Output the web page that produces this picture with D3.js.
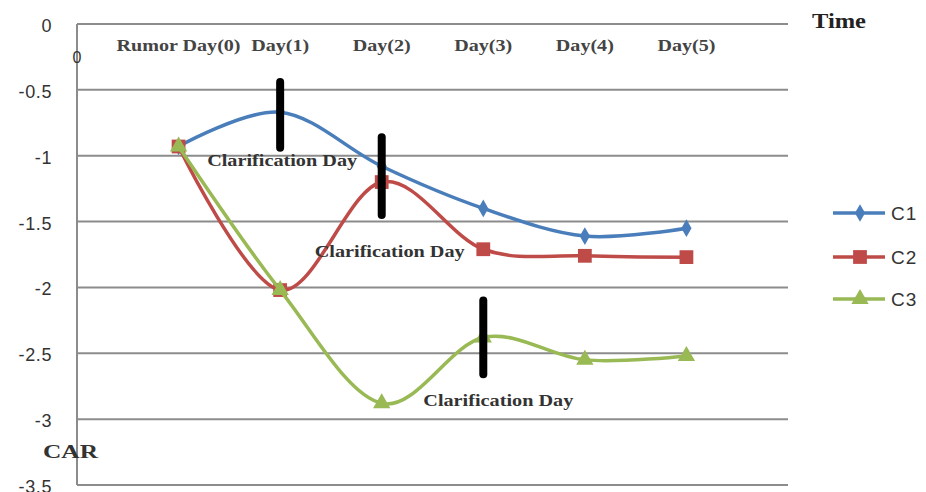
<!DOCTYPE html>
<html>
<head>
<meta charset="utf-8">
<script src="https://cdn.jsdelivr.net/npm/d3@7"></script>
<style>
  html, body { margin: 0; padding: 0; background: #fff; }
  svg { display: block; }
</style>
</head>
<body>
<svg id="chart" width="926" height="492"></svg>
<script>
// Category slots along the time axis (first slot is the origin, last is the open end)
const categories = ["0", "Rumor Day(0)", "Day(1)", "Day(2)", "Day(3)", "Day(4)", "Day(5)", ""];
const days = ["Rumor Day(0)", "Day(1)", "Day(2)", "Day(3)", "Day(4)", "Day(5)"];

// Cumulative abnormal returns per group
const c1 = [-0.93, -0.67, -1.08, -1.40, -1.61, -1.55];
const c2 = [-0.93, -2.02, -1.20, -1.71, -1.76, -1.77];
const c3 = [-0.93, -2.02, -2.88, -2.38, -2.55, -2.52];

const seriesNames = ["C1", "C2", "C3"];
const seriesColors = ["#4a7ebb", "#be4b48", "#98b954"];

const yTicks = [0, -0.5, -1, -1.5, -2, -2.5, -3, -3.5];

// Clarification day markers: day, CAR span of the bar, CAR level of the caption
const clarifyDays = ["Day(1)", "Day(2)", "Day(3)"];
const clarifyTop = [-0.44, -0.86, -2.10];
const clarifyBottom = [-0.94, -1.45, -2.66];
const clarifyCaption = [-1.04, -1.73, -2.86];
const clarifyShift = [2, 8, 15];

const svg = d3.select("#chart");

const x = d3.scalePoint().domain(categories).range([77, 788]);
const y = d3.scaleLinear().domain([-3.5, 0]).range([485, 24]);

const serif = "Liberation Serif, Times New Roman, serif";
const sans = "Liberation Sans, Arial, sans-serif";

// Horizontal gridlines
svg.append("g")
  .selectAll("line")
  .data(yTicks)
  .join("line")
  .attr("x1", x("0")).attr("x2", x(""))
  .attr("y1", d => y(d)).attr("y2", d => y(d))
  .attr("stroke", "#8c8c8c").attr("stroke-width", 2);

// Vertical axis line
svg.append("line")
  .attr("x1", x("0")).attr("x2", x("0"))
  .attr("y1", y(0)).attr("y2", y(-3.5))
  .attr("stroke", "#8c8c8c").attr("stroke-width", 2);

// Y tick labels
svg.append("g")
  .selectAll("text")
  .data(yTicks)
  .join("text")
  .attr("x", 52)
  .attr("y", d => y(d) + 8)
  .attr("text-anchor", "end")
  .attr("font-family", sans)
  .attr("font-size", 18)
  .attr("letter-spacing", 0.6)
  .attr("fill", "#333")
  .text(d => String(d));

// Category labels along the top
svg.append("g")
  .selectAll("text")
  .data(days)
  .join("text")
  .attr("x", d => x(d))
  .attr("y", 51)
  .attr("text-anchor", "middle")
  .attr("font-family", serif)
  .attr("font-weight", "bold")
  .attr("font-size", 17)
  .attr("textLength", (d, i) => i === 0 ? 124 : 58)
  .attr("lengthAdjust", "spacingAndGlyphs")
  .attr("fill", "#444")
  .text(d => d);

svg.append("text")
  .attr("x", x("0"))
  .attr("y", 63)
  .attr("text-anchor", "middle")
  .attr("font-family", sans)
  .attr("font-size", 16)
  .attr("fill", "#333")
  .text("0");

// Axis titles
svg.append("text")
  .attr("x", 812).attr("y", 28)
  .attr("font-family", serif)
  .attr("font-weight", "bold")
  .attr("font-size", 20)
  .attr("textLength", 54)
  .attr("lengthAdjust", "spacingAndGlyphs")
  .attr("fill", "#222")
  .text("Time");

svg.append("text")
  .attr("x", 43).attr("y", 458)
  .attr("font-family", serif)
  .attr("font-weight", "bold")
  .attr("font-size", 19)
  .attr("textLength", 55)
  .attr("lengthAdjust", "spacingAndGlyphs")
  .attr("fill", "#333")
  .text("CAR");

// Series lines
const series = [c1, c2, c3];
const line = d3.line()
  .x((d, i) => x(days[i]))
  .y(d => y(d))
  .curve(d3.curveCatmullRom.alpha(0));

const markerPath = [
  d3.symbol().type(d3.symbolDiamond).size(90),
  d3.symbol().type(d3.symbolSquare).size(190),
  d3.symbol().type(d3.symbolTriangle).size(130)
];

// Later series are drawn over earlier ones
[0, 1, 2].forEach(k => {
  const g = svg.append("g");
  g.append("path")
    .datum(series[k])
    .attr("d", line)
    .attr("fill", "none")
    .attr("stroke", seriesColors[k])
    .attr("stroke-width", 3.5);
  g.selectAll("path.mk")
    .data(series[k])
    .join("path")
    .attr("class", "mk")
    .attr("transform", (d, i) => `translate(${x(days[i])},${y(d)})`)
    .attr("d", markerPath[k]())
    .attr("fill", seriesColors[k]);
});

// Clarification day bars and captions
svg.append("g")
  .selectAll("line")
  .data(clarifyDays)
  .join("line")
  .attr("x1", d => x(d)).attr("x2", d => x(d))
  .attr("y1", (d, i) => y(clarifyTop[i]))
  .attr("y2", (d, i) => y(clarifyBottom[i]))
  .attr("stroke", "#000")
  .attr("stroke-width", 8)
  .attr("stroke-linecap", "round");

svg.append("g")
  .selectAll("text")
  .data(clarifyDays)
  .join("text")
  .attr("x", (d, i) => x(d) + clarifyShift[i])
  .attr("y", (d, i) => y(clarifyCaption[i]) + 5)
  .attr("text-anchor", "middle")
  .attr("font-family", serif)
  .attr("font-weight", "bold")
  .attr("font-size", 17)
  .attr("textLength", 150)
  .attr("lengthAdjust", "spacingAndGlyphs")
  .attr("fill", "#333")
  .text("Clarification Day");

// Legend
const legend = svg.append("g");
seriesNames.forEach((name, k) => {
  const ly = [213, 257, 299][k];
  legend.append("line")
    .attr("x1", 833).attr("x2", 885)
    .attr("y1", ly).attr("y2", ly)
    .attr("stroke", seriesColors[k]).attr("stroke-width", 3.5);
  legend.append("path")
    .attr("transform", `translate(860,${ly})`)
    .attr("d", markerPath[k]())
    .attr("fill", seriesColors[k]);
  legend.append("text")
    .attr("x", 891).attr("y", ly + 7)
    .attr("font-family", sans)
    .attr("font-size", 19)
    .attr("letter-spacing", 1)
    .attr("fill", "#333")
    .text(name);
});
</script>
</body>
</html>
